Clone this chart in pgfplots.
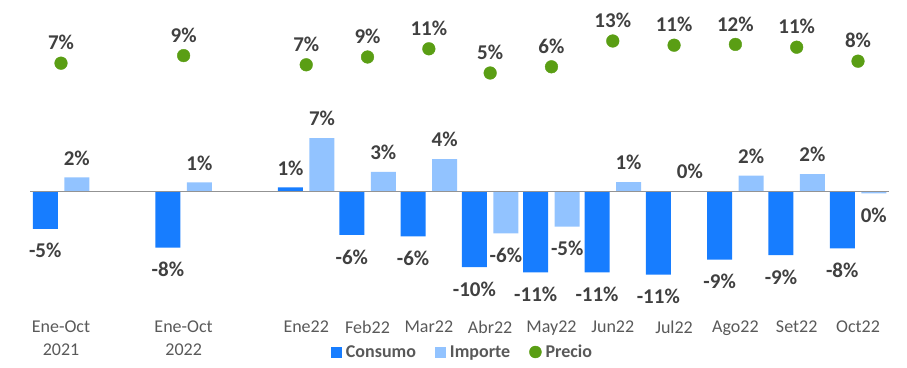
\documentclass[border=0pt]{standalone}
\usepackage{fontspec}
\setmainfont{Carlito}
\usepackage{pgfplots}
\pgfplotsset{compat=1.18}
\usepackage{pgfplotstable}
\definecolor{cons}{HTML}{177DFF}
\definecolor{imp}{HTML}{92C3FF}
\definecolor{prec}{HTML}{5A9E14}
\definecolor{lab}{HTML}{404040}
\definecolor{tickc}{HTML}{595959}

\pgfplotstableread{
x cons conslab imp implab
0 -4.97 -5 1.87 2
2 -7.5 -8 1.2 1
4 0.55 1 7.1 7
5 -5.8 -6 2.6 3
6 -6.0 -6 4.3 4
7 -10.1 -10 -5.6 -6
8 -10.8 -11 -4.7 -5
9 -10.8 -11 1.24 1
10 -11.07 -11 0.05 0
11 -9.1 -9 2.1 2
12 -8.5 -9 2.3 2
13 -7.6 -8 -0.25 0
}\bars

\pgfplotstableread{
x p plab
0 7.2 7
2 9.1 9
4 6.8 7
5 8.75 9
6 10.8 11
7 4.75 5
8 6.3 6
9 12.75 13
10 11.7 11
11 11.9 12
12 11.2 11
13 7.7 8
}\precio

\begin{document}
\begin{tikzpicture}
\begin{axis}[
  at={(30.35pt,67pt)}, anchor=south west,
  scale only axis, width=858.3pt, height=290pt,
  xmin=-0.5, xmax=13.5, ymin=-14.4667, ymax=24.2,
  axis line style={draw=none}, ytick=\empty,
  xtick={0,2,4,5,6,7,8,9,10,11,12,13},
  xticklabels={{Ene-Oct\\2021},{Ene-Oct\\2022},Ene22,Feb22,Mar22,Abr22,May22,Jun22,Jul22,Ago22,Set22,Oct22},
  xticklabel style={align=center, font=\fontsize{18}{23}\selectfont, text=tickc, anchor=north, inner sep=0pt, yshift=-21pt},
  major tick length=0pt,
  ybar=6.5pt, bar width=25pt,
  clip=false,
  visualization depends on={rawy \as \rawy},
  nodes near coords={\pgfplotspointmeta\%},
  point meta=explicit symbolic,
  every node near coord/.append style={font=\fontsize{21}{25}\selectfont\bfseries, text=lab, anchor=center, inner sep=0pt, yshift={(\rawy<0)*(-41.5pt)+19.5pt}},
  legend style={at={(0.5047,-0.1793)}, anchor=center, draw=none, fill=none,
    font=\fontsize{18}{22}\selectfont\bfseries, text=tickc,
    /tikz/every even column/.append style={column sep=15pt},
    nodes={inner ysep=2pt, inner xsep=4pt}},
  legend columns=3,
]
\addplot[fill=cons, draw=none, legend image code/.code={\fill[cons] (0pt,-5.5pt) rectangle (11pt,5.5pt);}]
  table[x=x, y=cons, meta=conslab]{\bars};
\addplot[fill=imp, draw=none, legend image code/.code={\fill[imp] (0pt,-5.5pt) rectangle (11pt,5.5pt);}]
  table[x=x, y=imp, meta=implab]{\bars};
\addlegendimage{legend image code/.code={\fill[prec] (5.5pt,0pt) circle (6pt);}}
\legend{Consumo,Importe,Precio}
\draw[color=gray!85, line width=1pt] ({rel axis cs:0,0}|-{axis cs:0,0}) -- ({rel axis cs:1,0}|-{axis cs:0,0});
\end{axis}
\begin{axis}[
  at={(30.35pt,67pt)}, anchor=south west,
  scale only axis, width=858.3pt, height=290pt,
  xmin=-0.5, xmax=13.5, ymin=-52, ymax=20.5,
  hide axis, clip=false,
  nodes near coords={\pgfplotspointmeta\%},
  point meta=explicit symbolic,
  every node near coord/.append style={font=\fontsize{21}{25}\selectfont\bfseries, text=lab, anchor=center, inner sep=0pt, yshift=20.5pt},
]
\addplot[only marks, mark=*, mark size=6.35pt, mark options={fill=prec, draw=prec}]
  table[x=x, y=p, meta=plab]{\precio};
\end{axis}
\pgfresetboundingbox
\path (0,0) rectangle (907pt,367pt);
\end{tikzpicture}
\end{document}
